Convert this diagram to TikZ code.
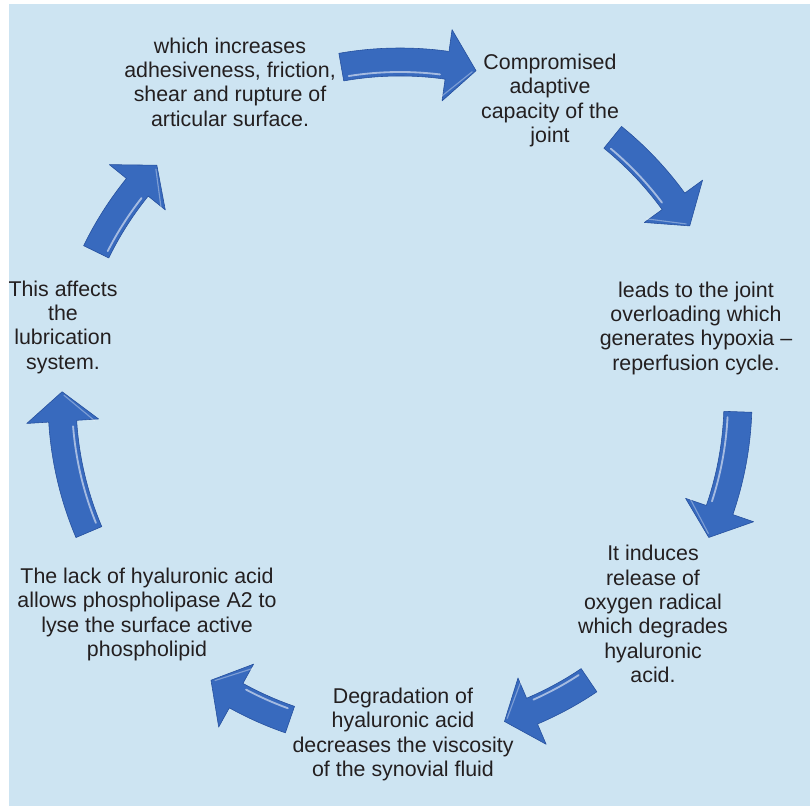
\documentclass[tikz,border=0pt]{standalone}
\usepackage{fontspec}
\setmainfont{Liberation Sans}
\usepackage{tikz}
\usetikzlibrary{arrows}

\definecolor{bgblue}{RGB}{205,228,242}
\definecolor{arrowblue}{RGB}{56,106,190}
\definecolor{arrowdark}{RGB}{36,78,156}
\definecolor{inkgray}{RGB}{35,31,32}

% curved block arrow on the ring, clockwise from angle #1 to angle #2
\newcommand{\ringarrow}[2]{%
  \fill[arrowblue,draw=arrowdark,line width=.4pt,line join=round]
    (#1:352) arc[start angle=#1, end angle=#2+5, radius=352]
    -- (#2+5:374) -- (#2:338) -- (#2+5:302) -- (#2+5:324)
    arc[start angle=#2+5, end angle=#1, radius=324] -- cycle;
  \draw[white,opacity=.55,line width=1.3pt,line cap=round]
    (#1-1:328) arc[start angle=#1-1, end angle=#2+6, radius=328];
  \draw[white,opacity=.35,line width=.8pt,line cap=round]
    (#2+5.3:306) -- (#2+.6:336);
}

\begin{document}
\begin{tikzpicture}[x=0.025cm,y=0.025cm,
   cycletext/.style={font=\fontsize{15.2}{17.3}\selectfont,text=inkgray,
                     align=center,inner sep=0pt}]
   \useasboundingbox (0,0) rectangle (810,-806);
   \fill[bgblue] (9,-4) rectangle (810,-806);

   \node[cycletext] (friction)    at (230,-82) {which increases\\adhesiveness, friction,\\shear and rupture of\\articular surface.};
   \node[cycletext] (capacity)    at (550,-100.5) {Compromised\\adaptive\\capacity of the\\joint};
   \node[cycletext] (overload)    at (696,-328) {leads to the joint\\overloading which\\generates hypoxia –\\reperfusion cycle.};
   \node[cycletext] (radical)     at (653,-614) {It induces\\release of\\oxygen radical\\which degrades\\hyaluronic\\acid.};
   \node[cycletext] (viscosity)   at (403,-734.5) {Degradation of\\hyaluronic acid\\decreases the viscosity\\of the synovial fluid};
   \node[cycletext] (lipase)      at (147,-614.5) {The lack of hyaluronic acid\\allows phospholipase A2 to\\lyse the surface active\\phospholipid};
   \node[cycletext] (lubrication) at (63,-327) {This affects\\the\\lubrication\\system.};

   % arrows round the cycle
   \begin{scope}[shift={(400,-400)}]
      \ringarrow{100}{77}
      \ringarrow{51}{31}
      \ringarrow{-2}{-24}
      \ringarrow{-56}{-72}
      \ringarrow{-109}{-124}
      \ringarrow{203}{178.6}
      \ringarrow{154}{136}
   \end{scope}
\end{tikzpicture}
\end{document}
